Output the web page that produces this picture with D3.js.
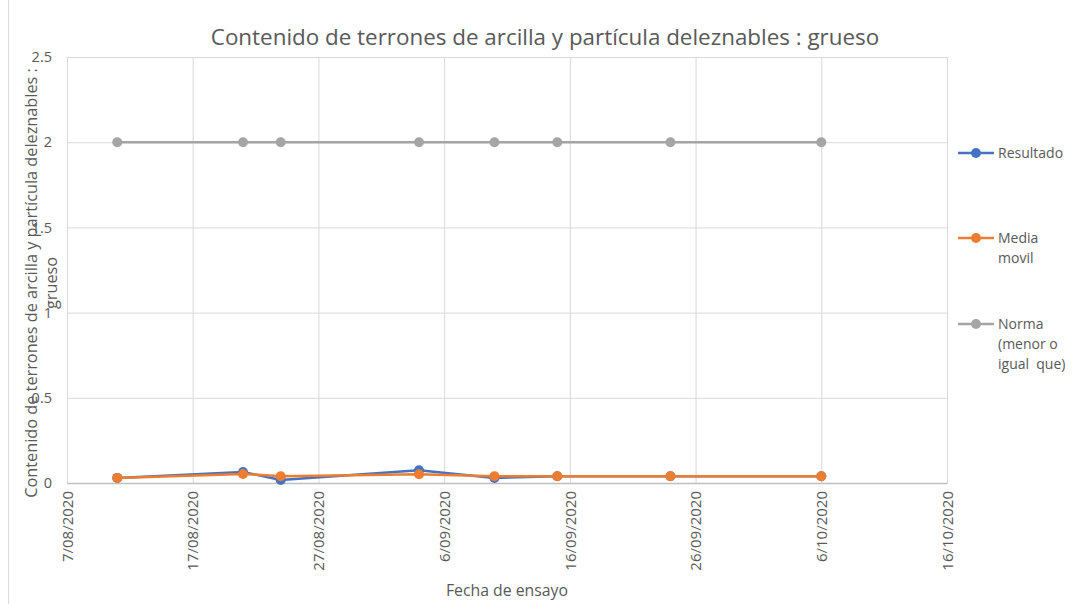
<!DOCTYPE html>
<html>
<head>
<meta charset="utf-8">
<script src="https://cdn.jsdelivr.net/npm/d3@7"></script>
<style>
  html, body { margin: 0; padding: 0; background: #fff; }
  svg { display: block; font-family: "Open Sans", "Liberation Sans", sans-serif; }
</style>
</head>
<body>
<svg id="chart" width="1083" height="604"></svg>
<script>
// Test dates (d/mm/yyyy)
const fechas = ["11/08/2020", "21/08/2020", "24/08/2020", "4/09/2020",
                "10/09/2020", "15/09/2020", "24/09/2020", "6/10/2020"];
// Series values
const resultado  = [0.03, 0.065, 0.018, 0.075, 0.03, 0.04, 0.04, 0.04];
const mediaMovil = [0.03, 0.053, 0.04, 0.051, 0.04, 0.04, 0.04, 0.04];
const norma      = [2, 2, 2, 2, 2, 2, 2, 2];
// Axis settings
const xTickLabels = ["7/08/2020", "17/08/2020", "27/08/2020", "6/09/2020",
                     "16/09/2020", "26/09/2020", "6/10/2020", "16/10/2020"];
const yTicks = [0, 0.5, 1, 1.5, 2, 2.5];
const seriesNames = [["Resultado"], ["Media", "movil"], ["Norma", "(menor o", "igual  que)"]];
const seriesColors = ["#4472C4", "#ED7D31", "#A5A5A5"];

const parse = d3.utcParse("%d/%m/%Y");
const fmt = d3.utcFormat("%-d/%m/%Y");
const dates = fechas.map(parse);
const tickDates = xTickLabels.map(parse);

const svg = d3.select("#chart");
const plot = { left: 67, right: 947, top: 57, bottom: 483 };

const x = d3.scaleUtc()
  .domain([tickDates[0], tickDates[tickDates.length - 1]])
  .range([plot.left, plot.right]);
const y = d3.scaleLinear().domain([0, 2.5]).range([plot.bottom, plot.top]);

const textColor = "#595959";

// chart frame edge
svg.append("line").attr("x1", 8.5).attr("x2", 8.5).attr("y1", 0).attr("y2", 604)
  .attr("stroke", "#d9d9d9").attr("stroke-width", 1);

// horizontal gridlines
svg.append("g").attr("transform", `translate(${plot.left},0)`)
  .call(d3.axisLeft(y).tickValues(yTicks).tickSize(-(plot.right - plot.left)).tickFormat(""))
  .call(g => g.select(".domain").remove())
  .call(g => g.selectAll(".tick line").attr("stroke", "#d9d9d9"));

// vertical gridlines
svg.append("g").attr("transform", `translate(0,${plot.top})`)
  .call(d3.axisBottom(x).tickValues(tickDates).tickSize(plot.bottom - plot.top).tickFormat(""))
  .call(g => g.select(".domain").remove())
  .call(g => g.selectAll(".tick line").attr("stroke", "#d9d9d9"));

// y tick labels
svg.append("g").attr("transform", `translate(${plot.left},0)`)
  .call(d3.axisLeft(y).tickValues(yTicks).tickSize(0).tickPadding(15).tickFormat(d3.format("")))
  .call(g => g.select(".domain").remove())
  .call(g => g.selectAll("text").attr("fill", textColor).attr("font-size", 14.5)
    .attr("font-family", "Open Sans, sans-serif"));

// x axis with rotated date labels
const xAxis = svg.append("g").attr("transform", `translate(0,${plot.bottom})`)
  .call(d3.axisBottom(x).tickValues(tickDates).tickSize(0).tickFormat(fmt));
xAxis.select(".domain").attr("stroke", "#bfbfbf").attr("stroke-width", 1.3);
xAxis.selectAll("text")
  .attr("fill", textColor).attr("font-size", 15)
  .attr("font-family", "Open Sans, sans-serif")
  .attr("transform", "rotate(-90)")
  .attr("text-anchor", "end")
  .attr("x", -8).attr("y", 0).attr("dy", "0.35em");

// series
const series = [resultado, mediaMovil, norma];
const line = d3.line().x((d, i) => x(dates[i])).y(d => y(d));
[2, 0, 1].forEach(s => {
  const g = svg.append("g");
  g.append("path").datum(series[s]).attr("d", line)
    .attr("fill", "none").attr("stroke", seriesColors[s]).attr("stroke-width", 2.5)
    .attr("stroke-linejoin", "round");
  g.selectAll("circle").data(series[s]).join("circle")
    .attr("cx", (d, i) => x(dates[i])).attr("cy", d => y(d)).attr("r", 5)
    .attr("fill", seriesColors[s]);
});

// title
svg.append("text").attr("x", 545).attr("y", 45).attr("text-anchor", "middle")
  .attr("fill", textColor).attr("font-size", 22.4)
  .text("Contenido de terrones de arcilla y partícula deleznables : grueso");

// x axis title
svg.append("text").attr("x", 507).attr("y", 596).attr("text-anchor", "middle")
  .attr("fill", textColor).attr("font-size", 15.8).text("Fecha de ensayo");

// y axis title (two lines)
const yTitle = svg.append("text").attr("transform", "translate(37,283) rotate(-90)")
  .attr("text-anchor", "middle").attr("fill", textColor).attr("font-size", 16.3);
yTitle.append("tspan").attr("x", 0).attr("y", 0)
  .text("Contenido de terrones de arcilla y partícula deleznables :");
yTitle.append("tspan").attr("x", 0).attr("y", 20).text("grueso");

// legend
const legendY = [153, 238, 324];
seriesNames.forEach((lines, i) => {
  const g = svg.append("g").attr("transform", `translate(958,${legendY[i]})`);
  g.append("line").attr("x1", 0).attr("x2", 36).attr("y1", 0).attr("y2", 0)
    .attr("stroke", seriesColors[i]).attr("stroke-width", 2.5);
  g.append("circle").attr("cx", 18).attr("cy", 0).attr("r", 5).attr("fill", seriesColors[i]);
  const t = g.append("text").attr("fill", textColor).attr("font-size", 14)
    .attr("xml:space", "preserve");
  lines.forEach((l, k) => t.append("tspan").attr("x", 40).attr("y", k * 20).attr("dy", "0.35em").text(l));
});
</script>
</body>
</html>
